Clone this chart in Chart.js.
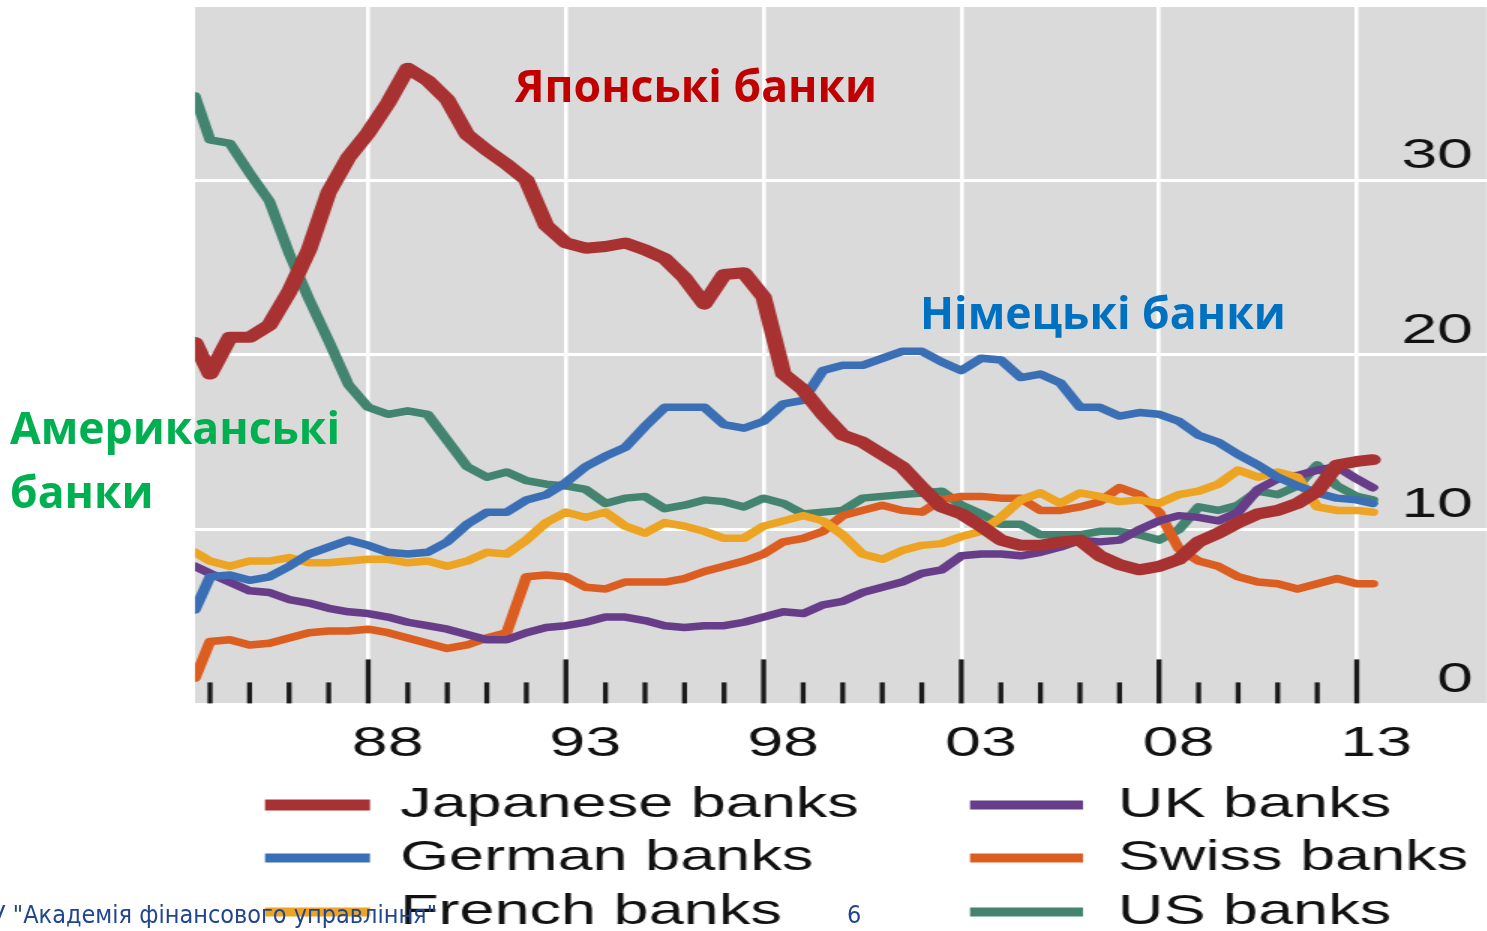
<!DOCTYPE html>
<html lang="uk">
<head>
  <meta charset="UTF-8" />
  <title>Japanese, German, French, UK, Swiss and US banks</title>
  <script src="https://cdn.jsdelivr.net/npm/chart.js"></script>
  <style>
    html, body { margin: 0; padding: 0; background: #fff; }
    body { width: 1487px; height: 931px; overflow: hidden; position: relative; }
    /* the source picture is stretched sideways, so the chart is drawn narrow and scaled */
    #wrap { position: absolute; left: 0; top: 0; width: 997px; height: 931px; transform: scaleX(1.5); transform-origin: 0 0; }
    .note { position: absolute; white-space: nowrap; line-height: 1; font-family: "Open Sans", "Noto Sans", sans-serif; font-weight: 700; font-size: 44.5px; }
    #footer { position: absolute; right: 1050px; top: 902px; white-space: nowrap; line-height: 1; font-family: "Liberation Sans Narrow", "DejaVu Sans Condensed", sans-serif; font-size: 25px; color: #21468f; }
    #page { position: absolute; left: 847px; top: 902px; line-height: 1; font-family: "Liberation Sans Narrow", "DejaVu Sans Condensed", sans-serif; font-size: 25px; color: #21468f; }
  </style>
</head>
<body>
  <div id="wrap"><canvas id="banksChart"></canvas></div>

  <div class="note" style="left:515px; top:63px; color:#c00000;">Японські банки</div>
  <div class="note" style="left:920px; top:290px; color:#0070c0;">Німецькі банки</div>
  <div class="note" style="left:10px; top:405px; color:#00b050;">Американські</div>
  <div class="note" style="left:10px; top:469px; color:#00b050;">банки</div>
  <div id="footer">ДННУ "Академія фінансового управління"</div>
  <div id="page">6</div>

  <script>
    const STRETCH = 1.5;

    const years = [1983.62, 1984, 1984.5, 1985, 1985.5, 1986, 1986.5, 1987, 1987.5, 1988, 1988.5,
      1989, 1989.5, 1990, 1990.5, 1991, 1991.5, 1992, 1992.5, 1993, 1993.5, 1994, 1994.5, 1995, 1995.5,
      1996, 1996.5, 1997, 1997.5, 1998, 1998.5, 1999, 1999.5, 2000, 2000.5, 2001, 2001.5, 2002, 2002.5,
      2003, 2003.5, 2004, 2004.5, 2005, 2005.5, 2006, 2006.5, 2007, 2007.5, 2008, 2008.5, 2009, 2009.5,
      2010, 2010.5, 2011, 2011.5, 2012, 2012.5, 2013, 2013.4];

    const japanese = [20.7, 18.9, 21.0, 21.0, 21.7, 23.6, 26.0, 29.3, 31.3, 32.7,
      34.4, 36.4, 35.7, 34.6, 32.6, 31.7, 30.9, 30.0, 27.4, 26.4,
      26.1, 26.2, 26.4, 26.0, 25.5, 24.4, 22.9, 24.6, 24.7, 23.3,
      18.9, 18.0, 16.6, 15.4, 15.0, 14.3, 13.6, 12.4, 11.3, 10.9,
      10.2, 9.4, 9.1, 9.1, 9.3, 9.4, 8.5, 8.0, 7.7, 7.9,
      8.3, 9.3, 9.8, 10.4, 10.9, 11.1, 11.5, 12.2, 13.7, 13.9, 14.0];
    const german = [5.4, 7.3, 7.4, 7.1, 7.3, 7.9, 8.6, 9.0, 9.4, 9.1,
      8.7, 8.6, 8.7, 9.3, 10.3, 11.0, 11.0, 11.7, 12.0, 12.7,
      13.6, 14.2, 14.7, 15.9, 17.0, 17.0, 17.0, 16.0, 15.8, 16.2,
      17.2, 17.4, 19.1, 19.4, 19.4, 19.8, 20.2, 20.2, 19.6, 19.1,
      19.8, 19.7, 18.7, 18.9, 18.4, 17.0, 17.0, 16.5, 16.7, 16.6,
      16.2, 15.4, 15.0, 14.3, 13.7, 13.0, 12.5, 12.1, 11.8, 11.7, 11.5];
    const french = [8.7, 8.2, 7.9, 8.2, 8.2, 8.4, 8.1, 8.1, 8.2, 8.3,
      8.3, 8.1, 8.2, 7.9, 8.2, 8.7, 8.6, 9.4, 10.4, 11.0,
      10.7, 11.0, 10.2, 9.8, 10.4, 10.2, 9.9, 9.5, 9.5, 10.2,
      10.5, 10.8, 10.5, 9.7, 8.6, 8.3, 8.8, 9.1, 9.2, 9.6,
      9.9, 10.7, 11.7, 12.1, 11.5, 12.1, 11.9, 11.6, 11.7, 11.5,
      12.0, 12.2, 12.6, 13.4, 13.0, 13.3, 13.0, 11.3, 11.1, 11.1, 11.0];
    const uk = [7.9, 7.5, 7.0, 6.5, 6.4, 6.0, 5.8, 5.5, 5.3, 5.2,
      5.0, 4.7, 4.5, 4.3, 4.0, 3.7, 3.7, 4.1, 4.4, 4.5,
      4.7, 5.0, 5.0, 4.8, 4.5, 4.4, 4.5, 4.5, 4.7, 5.0,
      5.3, 5.2, 5.7, 5.9, 6.4, 6.7, 7.0, 7.5, 7.7, 8.5,
      8.6, 8.6, 8.5, 8.7, 9.0, 9.4, 9.3, 9.4, 10.0, 10.5,
      10.8, 10.7, 10.5, 11.0, 12.3, 12.9, 13.1, 13.4, 13.6, 12.9, 12.4];
    const swiss = [1.5, 3.6, 3.7, 3.4, 3.5, 3.8, 4.1, 4.2, 4.2, 4.3,
      4.1, 3.8, 3.5, 3.2, 3.4, 3.8, 4.1, 7.3, 7.4, 7.3,
      6.7, 6.6, 7.0, 7.0, 7.0, 7.2, 7.6, 7.9, 8.2, 8.6,
      9.3, 9.5, 9.9, 10.8, 11.1, 11.4, 11.1, 11.0, 11.7, 11.9,
      11.9, 11.8, 11.8, 11.1, 11.1, 11.3, 11.6, 12.4, 12.0, 11.0,
      8.9, 8.2, 7.9, 7.3, 7.0, 6.9, 6.6, 6.9, 7.2, 6.9, 6.9];
    const us = [34.8, 32.3, 32.1, 30.4, 28.8, 25.8, 23.2, 20.8, 18.3, 17.0,
      16.6, 16.8, 16.6, 15.1, 13.6, 13.0, 13.3, 12.8, 12.6, 12.5,
      12.3, 11.5, 11.8, 11.9, 11.2, 11.4, 11.7, 11.6, 11.3, 11.8,
      11.5, 10.9, 11.0, 11.1, 11.8, 11.9, 12.0, 12.1, 12.2, 11.4,
      10.9, 10.3, 10.3, 9.7, 9.7, 9.7, 9.9, 9.9, 9.7, 9.4,
      10.0, 11.3, 11.1, 11.4, 12.2, 12.0, 12.5, 13.7, 12.5, 11.9, 11.7];

    const seriesNames = ["Japanese banks", "German banks", "French banks", "UK banks", "Swiss banks", "US banks"];
    const seriesColors = ["#a83232", "#3a6fb5", "#eda422", "#673d8a", "#dc5d20", "#428470"];
    const seriesWidths = [11, 7.5, 7.5, 7.5, 7.5, 7.5];
    const seriesValues = [japanese, german, french, uk, swiss, us];

    const labelYears = [1988, 1993, 1998, 2003, 2008, 2013];
    const markYears = [1984, 1985, 1986, 1987, 1988, 1989, 1990, 1991, 1992, 1993, 1994, 1995, 1996,
      1997, 1998, 1999, 2000, 2001, 2002, 2003, 2004, 2005, 2006, 2007, 2008, 2009, 2010, 2011, 2012, 2013];
    const yTicks = [0, 10, 20, 30];

    const axisFont = { family: "'Liberation Sans', Arial, sans-serif", size: 43 };

    // grey plot background
    const plotBackground = {
      id: "plotBackground",
      beforeDraw(chart) {
        const { ctx, chartArea: a } = chart;
        ctx.save();
        ctx.fillStyle = "#dadada";
        ctx.fillRect(a.left, a.top, a.right - a.left, a.bottom - a.top);
        ctx.restore();
      }
    };

    // yearly tick marks standing inside the plot, longer every 5 years
    const yearMarks = {
      id: "yearMarks",
      beforeDatasetsDraw(chart) {
        const { ctx, chartArea: a, scales } = chart;
        ctx.save();
        ctx.strokeStyle = "#1a1a1a";
        ctx.lineWidth = 3.3;
        markYears.forEach(yr => {
          const x = scales.x.getPixelForValue(yr);
          const len = labelYears.includes(yr) ? 45 : 22;
          ctx.beginPath();
          ctx.moveTo(x, a.bottom - 1);
          ctx.lineTo(x, a.bottom - len);
          ctx.stroke();
        });
        ctx.restore();
      }
    };

    // value labels sit inside the plot, right-aligned just above each gridline
    const valueLabels = {
      id: "valueLabels",
      afterDatasetsDraw(chart) {
        const { ctx, scales } = chart;
        ctx.save();
        ctx.font = "43px 'Liberation Sans', Arial, sans-serif";
        ctx.fillStyle = "#111";
        ctx.textAlign = "right";
        ctx.textBaseline = "middle";
        yTicks.forEach(v => {
          ctx.fillText(String(v), 1473 / STRETCH, scales.y.getPixelForValue(v) - 24);
        });
        ctx.restore();
      }
    };

    // two-column legend under the axis
    const columnLegend = {
      id: "columnLegend",
      afterDraw(chart) {
        const { ctx } = chart;
        const cols = [{ x0: 265, x1: 370, tx: 400 }, { x0: 970, x1: 1083, tx: 1118 }];
        const rows = [805, 858, 912];
        ctx.save();
        ctx.font = "42px 'Liberation Sans', Arial, sans-serif";
        ctx.textBaseline = "middle";
        ctx.fillStyle = "#111";
        chart.data.datasets.forEach((ds, i) => {
          const c = cols[Math.floor(i / 3)];
          const y = rows[i % 3];
          ctx.strokeStyle = ds.borderColor;
          ctx.lineWidth = i === 0 ? 11 : 9;
          ctx.beginPath();
          ctx.moveTo(c.x0 / STRETCH, y);
          ctx.lineTo(c.x1 / STRETCH, y);
          ctx.stroke();
          ctx.fillText(ds.label, c.tx / STRETCH, y);
        });
        ctx.restore();
      }
    };

    new Chart(document.getElementById("banksChart"), {
      type: "line",
      data: {
        datasets: seriesNames.map((name, i) => ({
          label: name,
          data: years.map((x, j) => ({ x: x, y: seriesValues[i][j] })),
          borderColor: seriesColors[i],
          borderWidth: seriesWidths[i],
          pointRadius: 0,
          tension: 0,
          borderJoinStyle: "round",
          borderCapStyle: "round"
        }))
      },
      options: {
        responsive: true,
        maintainAspectRatio: false,
        animation: false,
        layout: { padding: { left: 130, top: 7, right: 0, bottom: 147 } },
        plugins: { legend: { display: false }, tooltip: { enabled: false } },
        scales: {
          x: {
            type: "linear",
            min: 1983.62,
            max: 2016.3,
            border: { display: false },
            grid: { color: "#ffffff", lineWidth: 2.6, drawTicks: false },
            afterBuildTicks: s => { s.ticks = labelYears.map(v => ({ value: v })); },
            ticks: {
              font: axisFont,
              color: "#111",
              padding: 14,
              labelOffset: 13,
              maxRotation: 0,
              autoSkip: false,
              callback: v => String(v % 100).padStart(2, "0")
            }
          },
          y: {
            position: "right",
            min: 0,
            max: 39.9,
            border: { display: false },
            grid: { color: "#ffffff", lineWidth: 3, drawTicks: false },
            afterBuildTicks: s => { s.ticks = yTicks.map(v => ({ value: v })); },
            ticks: { display: false }
          }
        }
      },
      plugins: [plotBackground, yearMarks, valueLabels, columnLegend]
    });
  </script>
</body>
</html>
